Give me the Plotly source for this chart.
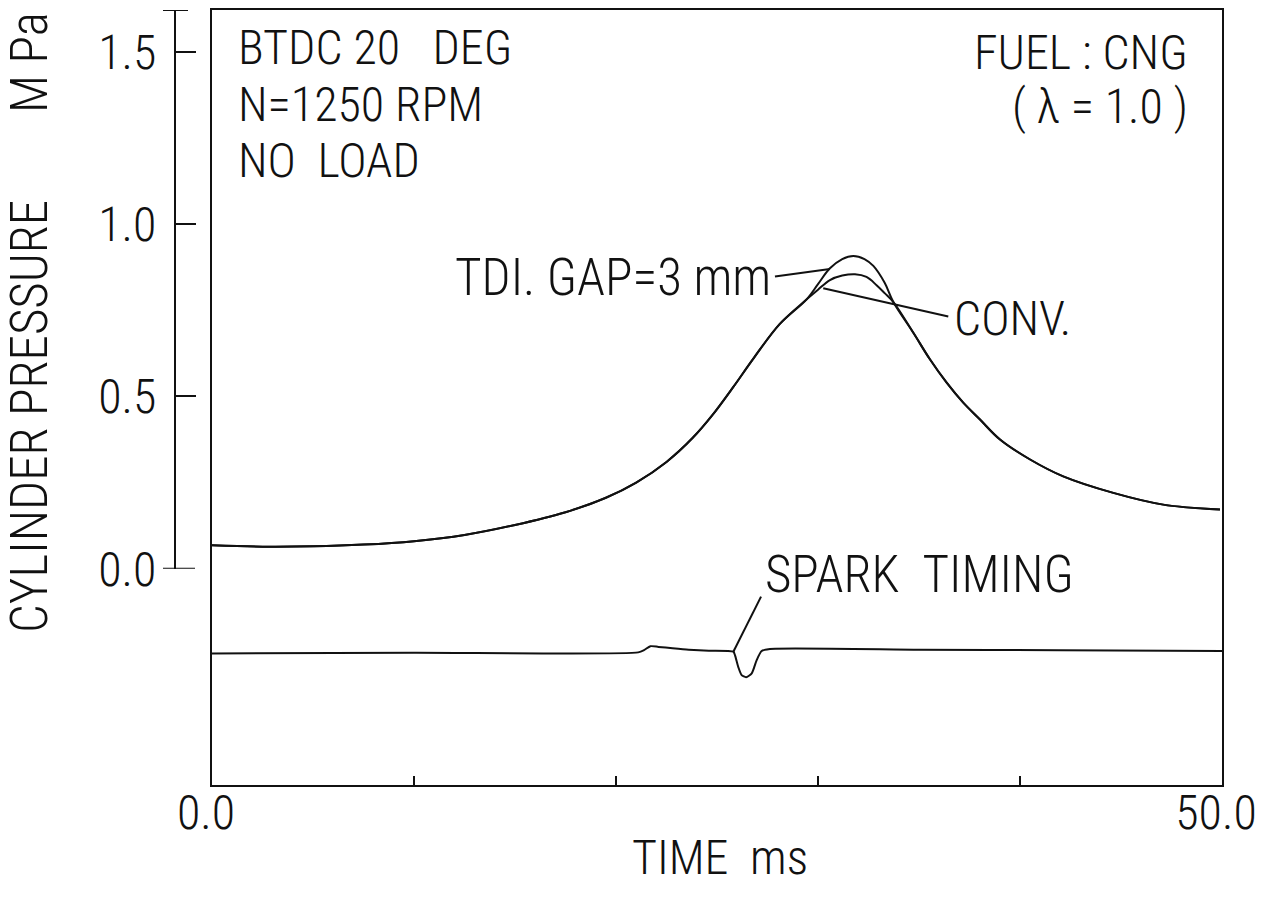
import plotly.graph_objects as go

# ---------------- data ----------------
# common rising part of the cylinder pressure (both cases overlap)
t_rise = [0.0, 2.5, 5.0, 7.5, 10.0, 12.5, 15.0, 17.5, 19.5, 21.0,
          22.5, 23.8, 24.8, 25.8, 26.8, 28.1, 29.44]
p_rise = [0.068, 0.064, 0.065, 0.070, 0.080, 0.098, 0.127, 0.164, 0.206, 0.250,
          0.310, 0.380, 0.448, 0.527, 0.610, 0.710, 0.782]

# peak region, TDI (gap = 3 mm)
t_peak_tdi = [30.0, 30.59, 31.2, 31.75, 32.3, 32.74, 33.3]
p_peak_tdi = [0.826, 0.872, 0.899, 0.908, 0.899, 0.879, 0.830]

# peak region, conventional ignition
t_peak_conv = [30.0, 30.59, 31.2, 31.83, 32.4, 32.90, 33.3]
p_peak_conv = [0.810, 0.838, 0.851, 0.855, 0.847, 0.823, 0.800]

# common falling part
t_fall = [33.73, 34.72, 35.54, 36.37, 37.19, 38.02, 39.01, 40.50, 42.14,
          44.62, 47.09, 49.90]
p_fall = [0.774, 0.685, 0.608, 0.540, 0.482, 0.433, 0.375, 0.317, 0.268,
          0.220, 0.186, 0.172]

# spark timing signal (drawn on the same vertical scale, below 0)
t_spark = [0.0, 10.0, 21.1, 21.4, 21.7, 22.1, 22.8, 23.6, 24.6, 25.81,
           25.89, 26.05, 26.22, 26.44, 26.72, 26.96, 27.21, 27.62, 35.0, 42.0, 50.0]
v_spark = [-0.246, -0.244, -0.243, -0.236, -0.225, -0.227, -0.231, -0.235, -0.238, -0.241,
           -0.251, -0.285, -0.309, -0.315, -0.304, -0.266, -0.239, -0.233, -0.235, -0.237, -0.239]

# marker on the time axis
t_marker = [25.3]

# leader lines for the labels  (time, value)
lead_tdi_t = [27.87, 30.59]
lead_tdi_p = [0.848, 0.870]
lead_conv_t = [30.26, 36.45]
lead_conv_p = [0.814, 0.732]
lead_spark_t = [25.81, 27.18]
lead_spark_v = [-0.241, -0.081]

# axes
x_range = [0.0, 50.0]
x_tick_vals = [0, 10, 20, 30, 40, 50]
x_tick_text = ["0.0", "", "", "", "", "50.0"]
y_range = [-0.628, 1.622]
y_tick_vals = [0.0, 0.5, 1.0, 1.5]
y_tick_text = ["0.0", "0.5", "1.0", "1.5"]

# ---------------- build series ----------------
t_tdi = t_rise + t_peak_tdi + t_fall
p_tdi = p_rise + p_peak_tdi + p_fall
t_conv = t_rise + t_peak_conv + t_fall
p_conv = p_rise + p_peak_conv + p_fall

W, H = 1266, 908
BLACK = "#111111"
FONT_FAMILY = "Roboto Condensed, Roboto, Liberation Sans, sans-serif"
FS = 48


def px_x(px):
    return px / W


def px_y(py):
    return 1 - py / H


x_dom = [px_x(212), px_x(1222)]
y_dom = [px_y(785), px_y(10)]
frac0 = (0 - y_range[0]) / (y_range[1] - y_range[0])
y2_dom = [y_dom[0] + frac0 * (y_dom[1] - y_dom[0]), y_dom[1]]

fig = go.Figure()

fig.add_trace(go.Scatter(x=t_conv, y=p_conv, mode="lines", name="CONV.",
                         line=dict(color=BLACK, width=2, shape="spline", smoothing=1.0),
                         xaxis="x", yaxis="y2", showlegend=False))
fig.add_trace(go.Scatter(x=t_tdi, y=p_tdi, mode="lines", name="TDI. GAP=3 mm",
                         line=dict(color=BLACK, width=2, shape="spline", smoothing=1.0),
                         xaxis="x", yaxis="y2", showlegend=False))
fig.add_trace(go.Scatter(x=t_spark, y=v_spark, mode="lines", name="SPARK TIMING",
                         line=dict(color=BLACK, width=2, shape="spline", smoothing=0.6),
                         xaxis="x", yaxis="y", showlegend=False))

# leader lines
for lt, lv, ax in [(lead_tdi_t, lead_tdi_p, "y2"), (lead_conv_t, lead_conv_p, "y2"),
                   (lead_spark_t, lead_spark_v, "y")]:
    fig.add_trace(go.Scatter(x=lt, y=lv, mode="lines", line=dict(color=BLACK, width=2),
                             xaxis="x", yaxis=ax, showlegend=False, hoverinfo="skip"))

# small triangle below the time axis
fig.add_trace(go.Scatter(x=t_marker, y=[y_range[0] - 0.022] * len(t_marker), mode="markers",
                         marker=dict(symbol="triangle-up-open", size=9, color=BLACK,
                                     line=dict(width=1.5, color=BLACK)),
                         cliponaxis=False, xaxis="x", yaxis="y", showlegend=False))

font = dict(family=FONT_FAMILY, size=FS, color=BLACK, weight=300)
big_font = dict(family=FONT_FAMILY, size=51, color=BLACK, weight=300)

fig.update_layout(
    width=W, height=H,
    margin=dict(l=0, r=0, t=0, b=0),
    paper_bgcolor="white", plot_bgcolor="rgba(0,0,0,0)",
    font=font,
    xaxis=dict(domain=x_dom, range=x_range, anchor="y", showline=True, linewidth=2,
               linecolor=BLACK, mirror=True, ticks="inside", ticklen=9, tickwidth=2,
               tickcolor=BLACK, tickvals=x_tick_vals, ticktext=x_tick_text,
               tickfont=font, showgrid=False, zeroline=False, automargin=False,
               ticklabelstandoff=-16, ticklabeloverflow="allow", ticklabelshift=-6),
    yaxis=dict(domain=y_dom, range=y_range, anchor="x", showline=True, linewidth=2,
               linecolor=BLACK, mirror=True, ticks="", showticklabels=False,
               showgrid=False, zeroline=False, automargin=False),
    yaxis2=dict(domain=y2_dom, range=[0, y_range[1]], anchor="free", position=px_x(175),
                side="left", showline=True, linewidth=2, linecolor=BLACK,
                ticks="inside", ticklen=20, tickwidth=2, tickcolor=BLACK,
                tickvals=y_tick_vals, ticktext=y_tick_text, tickfont=font,
                showgrid=False, zeroline=False, automargin=False, ticklabelstandoff=8,
                ticklabeloverflow="allow"),
)

# end caps of the pressure axis
fig.add_shape(type="line", xref="paper", yref="y2", x0=px_x(163), x1=px_x(188),
              y0=y_range[1], y1=y_range[1], line=dict(color=BLACK, width=2))
fig.add_shape(type="line", xref="paper", yref="y2", x0=px_x(163), x1=px_x(195),
              y0=0, y1=0, line=dict(color=BLACK, width=2))

ann = []
# top-left condition text
for txt, py in [("BTDC 20\u00a0\u00a0\u00a0DEG", 48), ("N=1250 RPM", 104), ("NO\u00a0\u00a0LOAD", 160)]:
    ann.append(dict(text=txt, xref="paper", yref="paper", x=px_x(236), y=px_y(py),
                    xanchor="left", yanchor="middle", showarrow=False, font=font))
# top-right
for txt, py in [("FUEL : CNG", 52), ("( \u03bb = 1.0 )", 107)]:
    ann.append(dict(text=txt, xref="paper", yref="paper", x=px_x(1190), y=px_y(py),
                    xanchor="right", yanchor="middle", showarrow=False, font=font))
# curve labels
ann.append(dict(text="TDI. GAP=3 mm", xref="x", yref="y2", x=lead_tdi_t[0] - 0.1,
                y=0.846, xanchor="right", yanchor="middle", showarrow=False, font=big_font))
ann.append(dict(text="CONV.", xref="x", yref="y2", x=lead_conv_t[1] + 0.2,
                y=0.725, xanchor="left", yanchor="middle", showarrow=False, font=font))
ann.append(dict(text="SPARK\u00a0\u00a0TIMING", xref="x", yref="y", x=lead_spark_t[1] + 0.1,
                y=-0.018, xanchor="left", yanchor="middle", showarrow=False, font=big_font))
# axis titles
ann.append(dict(text="TIME\u00a0\u00a0ms", xref="paper", yref="paper", x=px_x(720), y=px_y(857),
                xanchor="center", yanchor="middle", showarrow=False, font=font))
ann.append(dict(text="CYLINDER PRESSURE", xref="paper", yref="paper", x=px_x(30), y=px_y(417),
                xanchor="center", yanchor="middle", textangle=-90, showarrow=False,
                font=big_font))
ann.append(dict(text="M\u00a0Pa", xref="paper", yref="paper", x=px_x(30), y=px_y(62),
                xanchor="center", yanchor="middle", textangle=-90, showarrow=False,
                font=big_font))
fig.update_layout(annotations=ann)

fig.write_html("out.html")
